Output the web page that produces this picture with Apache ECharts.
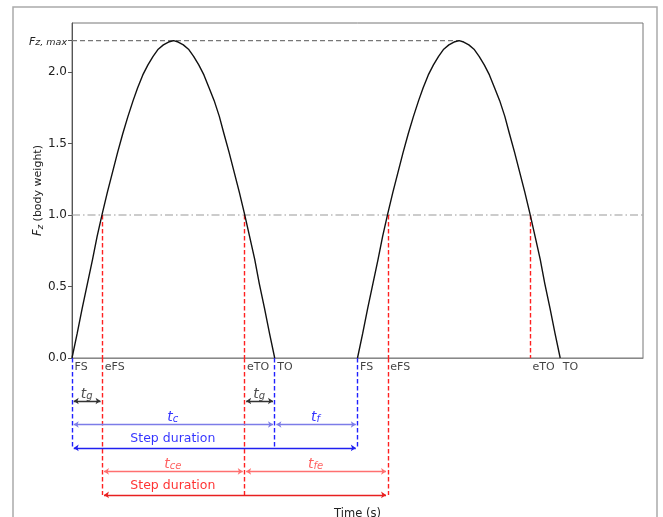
<!DOCTYPE html>
<html><head><meta charset="utf-8">
<script src="https://cdn.jsdelivr.net/npm/echarts@6/dist/echarts.min.js"></script>
<style>html,body{margin:0;padding:0;background:#fff}#c{width:663px;height:517px}</style>
</head><body><div id="c"></div>
<script>
// ---- data ----
const time1  = [0, 0.009, 0.018, 0.027, 0.036, 0.044, 0.053, 0.062, 0.071, 0.080, 0.089, 0.098, 0.107, 0.115, 0.124, 0.133, 0.142, 0.151, 0.160, 0.169, 0.178,
                0.186, 0.195, 0.204, 0.213, 0.222, 0.231, 0.240, 0.249, 0.258, 0.266, 0.275, 0.284, 0.293, 0.302, 0.311, 0.320, 0.328, 0.337, 0.346, 0.355];
const force1 = [0, 0.17, 0.35, 0.52, 0.69, 0.85, 1.01, 1.16, 1.30, 1.44, 1.57, 1.69, 1.80, 1.89, 1.98, 2.05, 2.11, 2.16, 2.19, 2.21, 2.22,
                2.21, 2.19, 2.16, 2.11, 2.05, 1.98, 1.89, 1.80, 1.69, 1.57, 1.44, 1.30, 1.16, 1.01, 0.85, 0.69, 0.52, 0.35, 0.17, 0];
const time2  = [0.5, 0.509, 0.518, 0.527, 0.536, 0.544, 0.553, 0.562, 0.571, 0.580, 0.589, 0.598, 0.607, 0.615, 0.624, 0.633, 0.642, 0.651, 0.660, 0.669, 0.678,
                0.686, 0.695, 0.704, 0.713, 0.722, 0.731, 0.740, 0.749, 0.758, 0.766, 0.775, 0.784, 0.793, 0.802, 0.811, 0.820, 0.828, 0.837, 0.846, 0.855];
const force2 = [0, 0.17, 0.35, 0.52, 0.69, 0.85, 1.01, 1.16, 1.30, 1.44, 1.57, 1.69, 1.80, 1.89, 1.98, 2.05, 2.11, 2.16, 2.19, 2.21, 2.22,
                2.21, 2.19, 2.16, 2.11, 2.05, 1.98, 1.89, 1.80, 1.69, 1.57, 1.44, 1.30, 1.16, 1.01, 0.85, 0.69, 0.52, 0.35, 0.17, 0];
const eventNames = ['FS', 'eFS', 'eTO', 'TO', 'FS', 'eFS', 'eTO', 'TO'];
const eventTimes = [0, 0.053, 0.302, 0.355, 0.5, 0.553, 0.802, 0.855];
const yTickValues = [0, 0.5, 1.0, 1.5, 2.0];
const fzMax = 2.22;
const fzMaxTime = 0.678;
const bodyWeight = 1.0;
const intervalNames = ['t_g', 't_g', 't_c', 't_f', 'Step duration', 't_ce', 't_fe', 'Step duration'];
const intervalFrom = [0, 2, 0, 3, 0, 1, 2, 1];
const intervalTo   = [1, 3, 3, 4, 4, 2, 5, 5];
const intervalRow  = [1, 1, 2, 2, 3, 4, 4, 5];

// ---- styling / layout ----
const FONT = 'DejaVu Sans';
const rowStyle = {
  1: {arrow: '#333333', key: 'k'},
  2: {arrow: '#7c7ce8', key: 'b'},
  3: {arrow: '#2020f0', key: 'b'},
  4: {arrow: '#ff7070', key: 'rl'},
  5: {arrow: '#e82020', key: 'r'}
};
const rich = {};
[['k', '#222222'], ['b', '#0000ff'], ['r', '#ff0000'], ['rl', '#ff3a3a']].forEach(([k, c]) => {
  rich['m' + k] = {fontFamily: FONT, fontStyle: 'italic', fontSize: 14, color: c, lineHeight: 18, verticalAlign: 'bottom'};
  rich['s' + k] = {fontFamily: FONT, fontStyle: 'italic', fontSize: 10, color: c, lineHeight: 18, verticalAlign: 'bottom', padding: [6, 0, 0, 0]};
  rich['d' + k] = {fontFamily: FONT, fontSize: 12.5, color: c, lineHeight: 18};
});
function labelMarkup(name, row) {
  const k = rowStyle[row].key;
  if (name.startsWith('t_')) return '{m' + k + '|t}{s' + k + '|' + name.slice(2) + '}';
  return '{d' + k + '|' + name + '}';
}

const series = [];
// main curves
[[time1, force1], [time2, force2]].forEach(([t, f]) => {
  series.push({type: 'line', xAxisIndex: 0, yAxisIndex: 0, data: t.map((x, i) => [x, f[i]]),
    showSymbol: false, smooth: false, lineStyle: {color: '#111', width: 1.4}, z: 10, silent: true});
});
// Fz,max dashed line
series.push({type: 'line', xAxisIndex: 0, yAxisIndex: 0, data: [[0, fzMax], [fzMaxTime, fzMax]], showSymbol: false,
  lineStyle: {color: '#777', width: 1.2, type: [5, 3]}, silent: true, z: 3});
// body weight dash-dot line
series.push({type: 'line', xAxisIndex: 0, yAxisIndex: 0, data: [[0, bodyWeight], [1, bodyWeight]], showSymbol: false,
  lineStyle: {color: '#999', width: 1.2, type: [8, 3, 1.5, 3]}, silent: true, z: 3});
// red verticals in main plot at effective events
const effIdx = eventNames.map((n, i) => n.startsWith('e') ? i : -1).filter(i => i >= 0);
const DASH = [4.5, 2.5];
series.push({type: 'lines', coordinateSystem: 'cartesian2d', xAxisIndex: 0, yAxisIndex: 0, polyline: false,
  data: effIdx.map(i => ({coords: [[eventTimes[i], bodyWeight], [eventTimes[i], 0]]})),
  lineStyle: {color: '#ff2020', width: 1.4, type: DASH, opacity: 1}, symbol: 'none', silent: true, z: 4});
// verticals below axis
function uniq(a) { return [...new Set(a)]; }
const blueIdx = uniq(intervalRow.flatMap((r, k) => (r === 2 || r === 3) ? [intervalFrom[k], intervalTo[k]] : []));
const redIdx = uniq(intervalRow.flatMap((r, k) => (r === 4 || r === 5) ? [intervalFrom[k], intervalTo[k]] : []));
const LOWER_MIN = -0.83, LOWER_MAX = 5.94;
series.push({type: 'lines', coordinateSystem: 'cartesian2d', xAxisIndex: 1, yAxisIndex: 1,
  data: blueIdx.map(i => ({coords: [[eventTimes[i], LOWER_MIN], [eventTimes[i], 3]]})),
  lineStyle: {color: '#2020ff', width: 1.4, type: DASH, opacity: 1}, symbol: 'none', silent: true, z: 4});
series.push({type: 'lines', coordinateSystem: 'cartesian2d', xAxisIndex: 1, yAxisIndex: 1,
  data: redIdx.map(i => ({coords: [[eventTimes[i], LOWER_MIN], [eventTimes[i], 5]]})),
  lineStyle: {color: '#ff2020', width: 1.4, type: DASH, opacity: 1}, symbol: 'none', silent: true, z: 4});
// arrows per row
[1, 2, 3, 4, 5].forEach(row => {
  const ks = intervalRow.map((r, k) => r === row ? k : -1).filter(k => k >= 0);
  series.push({type: 'lines', coordinateSystem: 'cartesian2d', xAxisIndex: 1, yAxisIndex: 1,
    data: ks.map(k => ({coords: [[eventTimes[intervalFrom[k]] + 0.003, row], [eventTimes[intervalTo[k]] - 0.003, row]]})),
    lineStyle: {color: rowStyle[row].arrow, width: 1.3, opacity: 1}, symbol: ['arrow', 'arrow'], symbolSize: 5,
    silent: true, z: 5});
});
// interval labels
const labelData = intervalNames.map((name, k) => {
  const row = intervalRow[k];
  let x0 = eventTimes[intervalFrom[k]], x1 = eventTimes[intervalTo[k]];
  if (row === 3 || row === 5) {
    // centred over the contact interval on the row above
    const j = intervalRow.findIndex((r, m) => r === row - 1 && intervalFrom[m] === intervalFrom[k]);
    x1 = eventTimes[intervalTo[j]];
  }
  return {value: [(x0 + x1) / 2, row - 0.36], name: labelMarkup(name, row)};
});
series.push({type: 'scatter', xAxisIndex: 1, yAxisIndex: 1, data: labelData, symbolSize: 1,
  itemStyle: {color: 'rgba(0,0,0,0)'}, silent: true, clip: false, z: 6,
  label: {show: true, position: [0, 0], align: 'center', verticalAlign: 'middle', formatter: p => p.name, rich: rich}});
// event labels
series.push({type: 'scatter', xAxisIndex: 1, yAxisIndex: 1, data: eventNames.map((n, i) => ({value: [eventTimes[i], -0.40], name: n})),
  symbolSize: 1, itemStyle: {color: 'rgba(0,0,0,0)'}, silent: true, clip: false, z: 6,
  label: {show: true, position: [3, 0], align: 'left', verticalAlign: 'middle', formatter: '{b}',
    fontFamily: FONT, fontSize: 11, color: '#111'}});

const yLabelValues = yTickValues.concat([fzMax]);
const option = {
  animation: false,
  backgroundColor: '#fff',
  grid: [
    {left: 72, top: 23, width: 571, height: 335, show: true, borderColor: '#777', borderWidth: 1, backgroundColor: 'transparent', outerBoundsMode: 'none', containLabel: false},
    {left: 72, top: 358, width: 571, height: 159, outerBoundsMode: 'none', containLabel: false}
  ],
  xAxis: [
    {type: 'value', gridIndex: 0, min: 0, max: 1, axisLabel: {show: false}, axisTick: {show: false}, splitLine: {show: false},
      axisLine: {show: true, lineStyle: {color: '#888', width: 1}},
      name: 'Time (s)', nameLocation: 'middle', nameGap: 150, nameTextStyle: {fontFamily: FONT, fontSize: 11.5, color: '#222'}},
    {type: 'value', gridIndex: 1, min: 0, max: 1, show: false}
  ],
  yAxis: [
    {type: 'value', gridIndex: 0, min: 0, max: 2.343, interval: 0.5, splitLine: {show: false},
      axisLine: {show: true, lineStyle: {color: '#555'}},
      axisTick: {show: true, length: 4, lineStyle: {color: '#555'}, customValues: yLabelValues},
      axisLabel: {customValues: yLabelValues, fontFamily: FONT, fontSize: 12, color: '#222', margin: 5,
        formatter: v => Math.abs(v - fzMax) < 1e-6 ? '{fi|F}{fs|z, max}' : v.toFixed(1),
        rich: {fi: {fontFamily: FONT, fontStyle: 'italic', fontSize: 11, color: '#222', verticalAlign: 'bottom', lineHeight: 14},
               fs: {fontFamily: FONT, fontStyle: 'italic', fontSize: 9.5, color: '#222', verticalAlign: 'bottom', lineHeight: 14, padding: [4, 0, 0, 0]}}},
      name: '{fi|F}{fs|z} (body weight)', nameLocation: 'middle', nameRotate: 90, nameGap: 27, nameMoveOverlap: false,
      nameTextStyle: {fontFamily: FONT, fontSize: 11, color: '#222',
        rich: {fi: {fontFamily: FONT, fontStyle: 'italic', fontSize: 11.5, color: '#222'},
               fs: {fontFamily: FONT, fontStyle: 'italic', fontSize: 8.5, color: '#222', padding: [4, 0, 0, 0]}}}},
    {type: 'value', gridIndex: 1, min: LOWER_MIN, max: LOWER_MAX, inverse: true, show: false}
  ],
  graphic: [
    {type: 'rect', shape: {x: 13, y: 7, width: 644, height: 530}, style: {fill: 'none', stroke: '#aaa', lineWidth: 1.5}, silent: true, z: -1}
  ],
  series: series
};
const chart = echarts.init(document.getElementById('c'), null, {renderer: 'canvas'});
chart.setOption(option);
</script>
</body></html>
